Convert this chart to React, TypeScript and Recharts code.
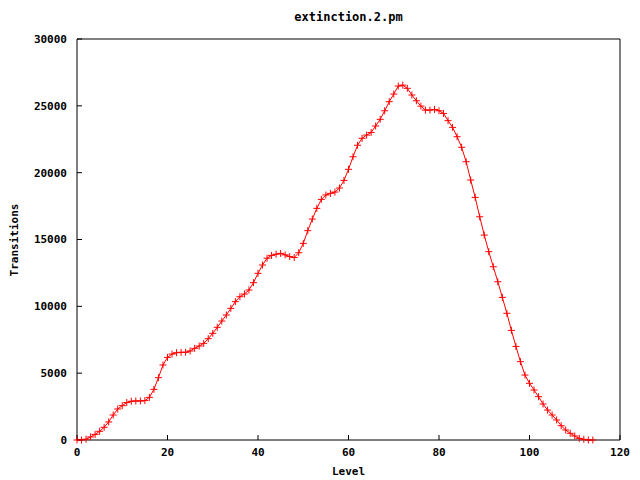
import { LineChart, Line, XAxis, YAxis } from "recharts";

// Level 0..114
const levels = [
  0, 1, 2, 3, 4, 5, 6, 7, 8, 9, 10, 11, 12, 13, 14, 15, 16, 17, 18, 19,
  20, 21, 22, 23, 24, 25, 26, 27, 28, 29, 30, 31, 32, 33, 34, 35, 36, 37, 38, 39,
  40, 41, 42, 43, 44, 45, 46, 47, 48, 49, 50, 51, 52, 53, 54, 55, 56, 57, 58, 59,
  60, 61, 62, 63, 64, 65, 66, 67, 68, 69, 70, 71, 72, 73, 74, 75, 76, 77, 78, 79,
  80, 81, 82, 83, 84, 85, 86, 87, 88, 89, 90, 91, 92, 93, 94, 95, 96, 97, 98, 99,
  100, 101, 102, 103, 104, 105, 106, 107, 108, 109, 110, 111, 112, 113, 114,
];

const transitions = [
  0, 0, 60, 230, 420, 650, 950, 1350, 1870, 2320, 2570, 2800, 2900, 2920, 2920, 2950, 3190, 3790, 4660, 5610,
  6180, 6430, 6530, 6560, 6560, 6660, 6860, 7030, 7230, 7580, 7980, 8430, 8900, 9350, 9850, 10350, 10720, 10920, 11220, 11770,
  12470, 13090, 13600, 13810, 13900, 13960, 13850, 13720, 13650, 14010, 14710, 15660, 16530, 17330, 18000, 18330, 18450, 18550, 18850, 19420,
  20250, 21190, 22050, 22570, 22810, 23010, 23490, 23990, 24630, 25310, 25880, 26480, 26550, 26310, 25810, 25380, 24980, 24680, 24680, 24730,
  24630, 24430, 23890, 23390, 22690, 21900, 20820, 19450, 18150, 16700, 15330, 14090, 12960, 11840, 10670, 9480, 8200, 7000, 5860, 4860,
  4240, 3740, 3240, 2690, 2240, 1870, 1500, 1070, 750, 500, 300, 125, 50, 0, 0,
];

const xTicks = [0, 20, 40, 60, 80, 100, 120];
const yTicks = [0, 5000, 10000, 15000, 20000, 25000, 30000];

const data = levels.map((level, i) => ({ level, value: transitions[i] }));

const FONT = "'DejaVu Sans Mono', monospace";
const RED = "#ff0000";
const tickStyle = { fontFamily: FONT, fontSize: 11, fontWeight: "bold", fill: "#000" };
const textStyle = {
  position: "absolute" as const,
  fontFamily: FONT,
  fontSize: 11,
  fontWeight: "bold" as const,
  whiteSpace: "nowrap" as const,
};

function PlusDot(props: any) {
  const { cx, cy, index } = props;
  if (cx == null || cy == null) return <g key={index} />;
  return (
    <path
      key={index}
      d={`M${cx - 3.5},${cy}h7M${cx},${cy - 3.5}v7`}
      stroke={RED}
      strokeWidth={1}
      fill="none"
    />
  );
}

export default function App() {
  return (
    <div style={{ position: "absolute", left: 0, top: 0, width: 640, height: 480, background: "#fff" }}>
      <div style={{ ...textStyle, fontSize: 12, left: 0, width: 697, top: 10, textAlign: "center" }}>extinction.2.pm</div>
      <div style={{ ...textStyle, left: 0, width: 697, top: 465, textAlign: "center" }}>Level</div>
      <div
        style={{
          ...textStyle,
          left: 14,
          top: 240,
          transform: "translate(-50%, -50%) rotate(-90deg)",
        }}
      >
        Transitions
      </div>
      <LineChart width={640} height={480} data={data} margin={{ top: 38, right: 19, bottom: 0, left: 0 }}>
        <XAxis
          xAxisId="bottom"
          dataKey="level"
          type="number"
          domain={[0, 120]}
          ticks={xTicks}
          height={40}
          tickSize={-5}
          tickMargin={13}
          tick={tickStyle}
          stroke="#000"
          interval={0}
        />
        <XAxis
          xAxisId="top"
          orientation="top"
          dataKey="level"
          type="number"
          domain={[0, 120]}
          ticks={xTicks}
          height={1}
          tickSize={-5}
          tick={false}
          stroke="#000"
          interval={0}
        />
        <YAxis
          yAxisId="left"
          type="number"
          domain={[0, 30000]}
          ticks={yTicks}
          width={77}
          tickSize={-5}
          tickMargin={15}
          tick={tickStyle}
          stroke="#000"
          interval={0}
        />
        <YAxis
          yAxisId="right"
          orientation="right"
          type="number"
          domain={[0, 30000]}
          ticks={yTicks}
          width={1}
          tickSize={-5}
          tick={false}
          stroke="#000"
          interval={0}
        />
        <Line
          xAxisId="bottom"
          yAxisId="left"
          type="linear"
          dataKey="value"
          stroke={RED}
          strokeWidth={1}
          dot={PlusDot}
          activeDot={false}
          isAnimationActive={false}
        />
      </LineChart>
    </div>
  );
}
